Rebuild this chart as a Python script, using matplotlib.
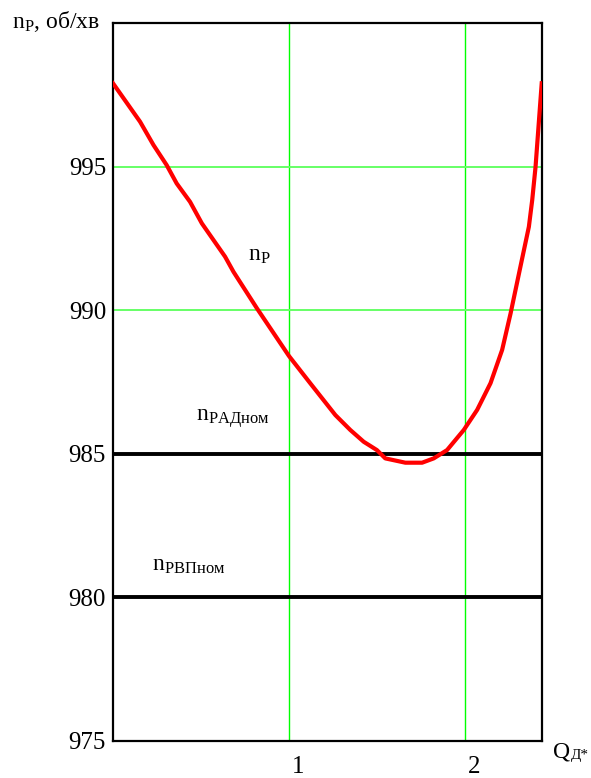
import matplotlib.pyplot as plt
import matplotlib.transforms as mtransforms

plt.rcParams['font.family'] = ['Liberation Serif', 'DejaVu Serif']
plt.rcParams['mathtext.fontset'] = 'custom'
plt.rcParams['mathtext.rm'] = 'Liberation Serif'
plt.rcParams['mathtext.it'] = 'Liberation Serif:italic'

# Швидкість ротора n_P залежно від Q_Д*
Q = [0.0, 0.154, 0.23, 0.305, 0.362, 0.438, 0.505, 0.637, 0.685, 0.818,
     1.0, 1.121, 1.264, 1.349, 1.425, 1.50, 1.548, 1.662, 1.757, 1.823,
     1.899, 1.994, 2.07, 2.146, 2.212, 2.26, 2.316, 2.364, 2.383, 2.402, 2.437]
n_P = [997.9, 996.56, 995.75, 995.05, 994.41, 993.77, 993.02, 991.86, 991.33, 990.06,
       988.4, 987.45, 986.34, 985.82, 985.41, 985.12, 984.83, 984.68, 984.68, 984.83,
       985.12, 985.82, 986.52, 987.45, 988.61, 989.88, 991.51, 992.9, 993.83, 994.99, 997.9]

n_rad_nom = 985
n_rvp_nom = 980

x_ticks = [1, 2]
y_ticks = [975, 980, 985, 990, 995]

fig = plt.figure(figsize=(5.91, 7.78), dpi=100)
ax = fig.add_axes([0.1912, 0.0482, 0.9166 - 0.1912, 0.9704 - 0.0482])

# сітка
for xv in x_ticks:
    ax.axvline(xv, color='#00ff00', lw=1.0, zorder=1)
for yv in y_ticks[1:]:
    ax.axhline(yv, color='#66ff66', lw=1.4, zorder=1)

ax.axhline(n_rad_nom, color='black', lw=2.8, zorder=3)
ax.axhline(n_rvp_nom, color='black', lw=2.8, zorder=3)
ax.plot(Q, n_P, color='#ff0000', lw=3.0, zorder=4, solid_joinstyle='round')

ax.set_xlim(0, 2.437)
ax.set_ylim(975, 1000)
ax.set_xticks(x_ticks)
ax.set_yticks(y_ticks)
ax.tick_params(axis='both', length=0, labelsize=18)
ax.tick_params(axis='x', pad=11)
ax.tick_params(axis='y', pad=5)
for s in ax.spines.values():
    s.set_linewidth(1.6)

# підписи по осі x трохи праворуч від ліній сітки
shift = mtransforms.ScaledTranslation(9 / 100, 0, fig.dpi_scale_trans)
for lbl in ax.get_xticklabels():
    lbl.set_transform(lbl.get_transform() + shift)

ax.text(0.77, 991.9, r'$\mathrm{n_P}$', fontsize=17, va='center')
ax.text(0.47, 986.2, r'$\mathrm{n_{РАДном}}$', fontsize=17, va='center')
ax.text(0.22, 981.1, r'$\mathrm{n_{РВПном}}$', fontsize=17, va='center')

fig.text(12 / 591, 1 - 22 / 778, r'$\mathrm{n_P}$, об/хв', fontsize=17, va='center')
fig.text(553 / 591, 1 - 752 / 778, 'Q', fontsize=17, va='center')
fig.text(571 / 591, 1 - 755 / 778, 'Д*', fontsize=11, va='center')

fig.savefig('out.png', dpi=100)
